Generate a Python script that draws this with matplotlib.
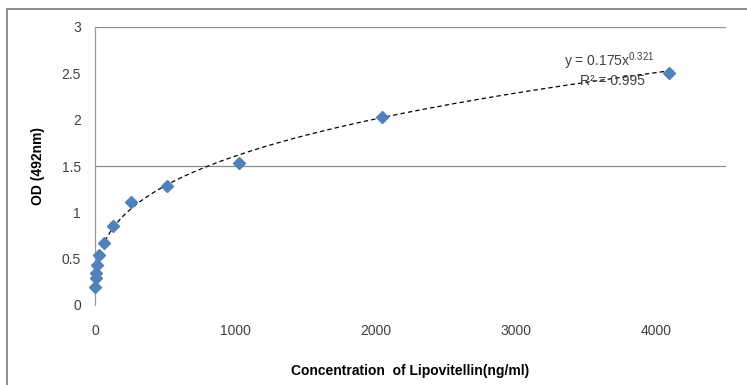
import numpy as np
import matplotlib
matplotlib.use("Agg")
import matplotlib.pyplot as plt
from matplotlib.patches import Rectangle

# standard curve data
conc = [2, 4, 8, 16, 32, 64, 128, 256, 512, 1024, 2048, 4096]
od = [0.19, 0.29, 0.34, 0.43, 0.54, 0.67, 0.85, 1.11, 1.28, 1.53, 2.03, 2.50]

# power trendline as printed on the chart
coef_a = 0.175
coef_b = 0.321
r2 = 0.995

x_ticks = [0, 1000, 2000, 3000, 4000]
y_ticks = [0, 0.5, 1, 1.5, 2, 2.5, 3]
y_tick_labels = ["0", "0.5", "1", "1.5", "2", "2.5", "3"]
grid_y = [1.5, 3]

plt.rcParams['font.family'] = ['Liberation Sans', 'DejaVu Sans']
plt.rcParams['mathtext.default'] = 'regular'

W, H = 747, 385
fig = plt.figure(figsize=(W / 100, H / 100), dpi=100)
fig.patch.set_facecolor('white')

# outer chart frame (right/bottom edges run off the picture)
fig.patches.append(Rectangle((7 / W, -0.05), 1.1, 1 - 9 / H + 0.05,
                             transform=fig.transFigure, fill=False,
                             edgecolor='#8c8c8c', linewidth=1.4))

ax = fig.add_axes([95 / W, 1 - 305 / H, (726 - 95) / W, (305 - 27) / H])
ax.set_xlim(0, 4500)
ax.set_ylim(0, 3)

for s in ['top', 'right', 'bottom']:
    ax.spines[s].set_visible(False)
ax.spines['left'].set_color('#9a9a9a')
ax.spines['left'].set_linewidth(0.9)

for g in grid_y:
    ax.axhline(g, color='#8c8c8c', linewidth=0.9, zorder=1)

# trendline
xs = np.linspace(min(conc), max(conc), 600)
ax.plot(xs, coef_a * xs ** coef_b, color='black', linewidth=0.9,
        linestyle=(0, (3.5, 2.5)), zorder=2)

ax.plot(conc, od, linestyle='none', marker='D', markersize=6,
        color='#4f81bd', markeredgecolor='#4f81bd', zorder=3, clip_on=False)

ax.set_xticks(x_ticks)
ax.set_yticks(y_ticks)
ax.set_yticklabels(y_tick_labels)
ax.tick_params(length=0, labelsize=10, colors='#404040')
ax.tick_params(axis='x', pad=14)
ax.tick_params(axis='y', pad=10)

ax.set_xlabel('Concentration  of Lipovitellin(ng/ml)', fontsize=10,
              fontweight='bold', color='black')
ax.set_ylabel('OD (492nm)', fontsize=10, fontweight='bold', color='black')
ax.xaxis.set_label_coords(0.5, -0.213)
ax.yaxis.set_label_coords(-0.079, 0.5)

ax.text(3670, 2.63, 'y = %.3fx$^{%.3f}$' % (coef_a, coef_b), fontsize=10,
        color='#404040', ha='center', va='center')
ax.text(3690, 2.42, 'R² = %.3f' % r2, fontsize=10, color='#404040',
        ha='center', va='center')

fig.savefig('out.png', dpi=100, facecolor='white')
